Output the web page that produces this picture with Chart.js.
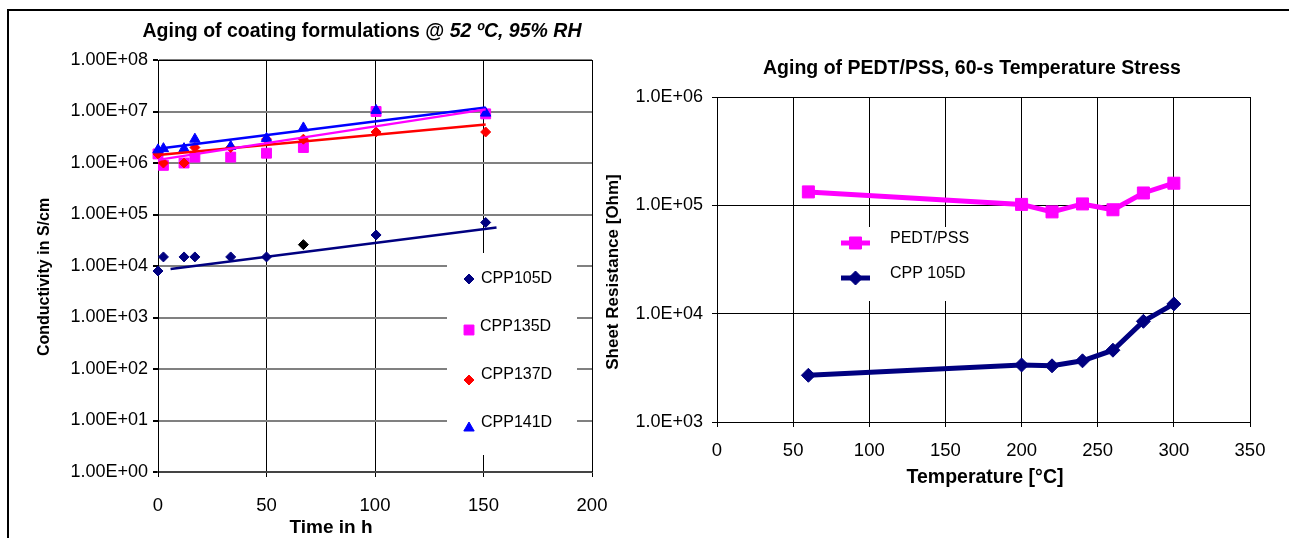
<!DOCTYPE html>
<html><head><meta charset="utf-8">
<script src="https://cdn.jsdelivr.net/npm/chart.js@4/dist/chart.umd.min.js"></script>
<style>
html,body{margin:0;padding:0;background:#fff;width:1289px;height:538px;overflow:hidden;position:relative}
#frame{position:absolute;left:7px;top:9px;width:1290px;height:540px;border-top:2px solid #000;border-left:2px solid #000;box-sizing:border-box}
#c1{position:absolute;left:10px;top:12px}
#c2{position:absolute;left:600px;top:12px}
</style></head><body>
<div id="frame"></div>
<canvas id="c1" width="620" height="526"></canvas>
<canvas id="c2" width="689" height="526"></canvas>
<script>
// ---------- Left chart data ----------
const timeH   = [0, 2.5, 12, 17, 33.5, 50, 67, 100.5, 151];
const cpp105D = [8e3, 1.5e4, 1.5e4, 1.5e4, 1.5e4, 1.5e4, 2.6e4, 4.0e4, 7.0e4];
const cpp135D = [1.5e6, 9e5, 1.0e6, 1.3e6, 1.3e6, 1.55e6, 2.0e6, 1.0e7, 9.0e6];
const cpp137D = [1.5e6, 1.0e6, 1.0e6, 2.0e6, 2.0e6, 2.9e6, 2.9e6, 4.0e6, 4.0e6];
const cpp141D = [1.8e6, 1.9e6, 1.9e6, 2.9e6, 2.1e6, 3.0e6, 4.8e6, 1.05e7, 9.3e6];
const seriesNamesLeft = ['CPP105D', 'CPP135D', 'CPP137D', 'CPP141D'];
// trendlines (end points)
const trendTime105 = [5.8, 156];
const trend105     = [8.7e3, 5.6e4];
const trendTime    = [0, 151];
const trend135     = [1.15e6, 1.1e7];
const trend137     = [1.43e6, 5.6e6];
const trend141     = [1.9e6, 1.2e7];
const leftYTickValues = [1, 10, 100, 1e3, 1e4, 1e5, 1e6, 1e7, 1e8];
const leftYTickLabels = ['1.00E+00','1.00E+01','1.00E+02','1.00E+03','1.00E+04','1.00E+05','1.00E+06','1.00E+07','1.00E+08'];
const leftXTickValues = [0, 50, 100, 150, 200];

// ---------- Right chart data ----------
const tempC    = [60, 200, 220, 240, 260, 280, 300];
const pedtPss  = [1.33e5, 1.02e5, 8.7e4, 1.03e5, 9.1e4, 1.3e5, 1.6e5];
const cpp105DT = [2.7e3, 3.36e3, 3.3e3, 3.67e3, 4.6e3, 8.5e3, 1.23e4];
const seriesNamesRight = ['PEDT/PSS', 'CPP 105D'];
const rightYTickValues = [1e3, 1e4, 1e5, 1e6];
const rightYTickLabels = ['1.0E+03','1.0E+04','1.0E+05','1.0E+06'];
const rightXTickValues = [0, 50, 100, 150, 200, 250, 300, 350];

// ---------- helpers ----------
const FAM = '"Liberation Sans", Arial, Helvetica, sans-serif';
const pts = (xs, ys) => xs.map((x, i) => ({x, y: ys[i]}));

function textPlugin(items) {
  return { id: 'txt', afterDraw(chart) {
    const ctx = chart.ctx;
    items.forEach(it => {
      ctx.save();
      ctx.translate(it.x, it.y);
      if (it.rot) ctx.rotate(it.rot);
      ctx.fillStyle = '#000';
      ctx.textBaseline = 'middle';
      ctx.textAlign = 'left';
      let total = 0;
      const parts = it.parts.map(p => { ctx.font = p.font; const w = ctx.measureText(p.text).width; total += w; return {text: p.text, font: p.font, w}; });
      let x = -total / 2;
      parts.forEach(p => { ctx.font = p.font; ctx.fillText(p.text, x, 0); x += p.w; });
      ctx.restore();
    });
  }};
}

function legendPlugin(box, entries, withLine) {
  return { id: 'lgd', afterDatasetsDraw(chart) {
    const ctx = chart.ctx;
    ctx.save();
    ctx.fillStyle = '#fff';
    ctx.fillRect(box.x, box.y, box.w, box.h);
    entries.forEach(e => {
      ctx.strokeStyle = e.color; ctx.fillStyle = e.color;
      if (withLine) {
        ctx.lineWidth = 5;
        ctx.beginPath(); ctx.moveTo(e.lx0, e.my); ctx.lineTo(e.lx1, e.my); ctx.stroke();
      }
      ctx.lineWidth = 1;
      Chart.helpers.drawPoint(ctx, {pointStyle: e.style, radius: e.r, borderWidth: 1, rotation: 0}, e.mx, e.my);
      ctx.fillStyle = '#000';
      ctx.font = '16px ' + FAM;
      ctx.textAlign = 'left'; ctx.textBaseline = 'middle';
      ctx.fillText(e.label, e.tx, e.ty);
    });
    ctx.restore();
  }};
}

const frameBorder = { id: 'frameBorder', afterDraw(chart) {
  const a = chart.chartArea, ctx = chart.ctx;
  ctx.save(); ctx.strokeStyle = '#000'; ctx.lineWidth = 1;
  ctx.beginPath();
  ctx.moveTo(a.left, a.top + 0.5); ctx.lineTo(a.right + 0.5, a.top + 0.5); ctx.lineTo(a.right + 0.5, a.bottom);
  ctx.stroke(); ctx.restore();
}};

// ---------- Left chart ----------
const navyPointColors = cpp105D.map((v, i) => i === 6 ? '#000000' : '#000080');
const mk = (label, data, color, style, r, order) => ({
  label, data, backgroundColor: color, borderColor: color, pointBackgroundColor: color, pointBorderColor: color,
  pointStyle: style, pointRadius: r, pointBorderWidth: 1, showLine: false, clip: false, order
});
const tr = (data, color) => ({ data, borderColor: color, backgroundColor: color, borderWidth: 2.5, pointRadius: 0, showLine: true, clip: false, order: 0 });

const ds105 = mk(seriesNamesLeft[0], pts(timeH, cpp105D), '#000080', 'rectRot', 5, 4);
ds105.pointBackgroundColor = navyPointColors; ds105.pointBorderColor = navyPointColors;

new Chart(document.getElementById('c1'), {
  type: 'scatter',
  data: { datasets: [
    ds105,
    mk(seriesNamesLeft[1], pts(timeH, cpp135D), '#FF00FF', 'rect', 7, 3),
    mk(seriesNamesLeft[2], pts(timeH, cpp137D), '#FF0000', 'rectRot', 5, 2),
    mk(seriesNamesLeft[3], pts(timeH, cpp141D), '#0000FF', 'triangle', 6, 1),
    tr(pts(trendTime105, trend105), '#000080'),
    tr(pts(trendTime, trend135), '#FF00FF'),
    tr(pts(trendTime, trend137), '#FF0000'),
    tr(pts(trendTime, trend141), '#0000FF')
  ]},
  options: {
    responsive: false, animation: false, devicePixelRatio: 1,
    layout: { padding: { left: 0, right: 38, top: 48, bottom: 0 } },
    plugins: { legend: { display: false }, tooltip: { enabled: false } },
    scales: {
      x: { type: 'linear', min: 0, max: 200,
        afterBuildTicks: s => { s.ticks = leftXTickValues.map(v => ({value: v})); },
        afterFit: s => { s.height = 66; },
        ticks: { font: { family: FAM, size: 18.5 }, color: '#000', padding: 18, maxRotation: 0, autoSkip: false },
        grid: { color: '#000', lineWidth: 1, tickLength: 5, tickColor: '#000' },
        border: { color: '#444', width: 2 } },
      y: { type: 'logarithmic', min: 1, max: 1e8,
        afterBuildTicks: s => { s.ticks = leftYTickValues.map(v => ({value: v})); },
        afterFit: s => { s.width = 148; },
        ticks: { font: { family: FAM, size: 18 }, color: '#000', padding: 5, autoSkip: false,
          callback: v => leftYTickLabels[leftYTickValues.indexOf(v)] },
        grid: { color: '#808080', lineWidth: 2, tickLength: 5, tickColor: '#000' },
        border: { color: '#000', width: 1 } }
    }
  },
  plugins: [frameBorder,
    legendPlugin({x: 437, y: 241, w: 130, h: 202}, [
      {label: seriesNamesLeft[0], color: '#000080', style: 'rectRot', r: 5, mx: 459, my: 267, tx: 471, ty: 267},
      {label: seriesNamesLeft[1], color: '#FF00FF', style: 'rect', r: 7, mx: 459, my: 318, tx: 470, ty: 315},
      {label: seriesNamesLeft[2], color: '#FF0000', style: 'rectRot', r: 5, mx: 459, my: 368, tx: 471, ty: 363},
      {label: seriesNamesLeft[3], color: '#0000FF', style: 'triangle', r: 6, mx: 459, my: 416, tx: 471, ty: 411}
    ], false),
    textPlugin([
      {x: 352, y: 20, parts: [
        {text: 'Aging of coating formulations @ ', font: 'bold 19.5px ' + FAM},
        {text: '52 ºC, 95% RH', font: 'italic bold 19.5px ' + FAM}]},
      {x: 321, y: 516, parts: [{text: 'Time in h', font: 'bold 19px ' + FAM}]},
      {x: 35, y: 265, rot: -Math.PI / 2, parts: [{text: 'Conductivity in S/cm', font: 'bold 16px ' + FAM}]}
    ])
  ]
});

// ---------- Right chart ----------
new Chart(document.getElementById('c2'), {
  type: 'scatter',
  data: { datasets: [
    { label: seriesNamesRight[0], data: pts(tempC, pedtPss), borderColor: '#FF00FF', backgroundColor: '#FF00FF',
      borderWidth: 5, pointStyle: 'rect', pointRadius: 8.5, pointBorderWidth: 1, showLine: true, clip: false },
    { label: seriesNamesRight[1], data: pts(tempC, cpp105DT), borderColor: '#000080', backgroundColor: '#000080',
      borderWidth: 5, pointStyle: 'rectRot', pointRadius: 7, pointBorderWidth: 1, showLine: true, clip: false }
  ]},
  options: {
    responsive: false, animation: false, devicePixelRatio: 1,
    layout: { padding: { left: 0, right: 39, top: 85, bottom: 0 } },
    plugins: { legend: { display: false }, tooltip: { enabled: false } },
    scales: {
      x: { type: 'linear', min: 0, max: 350,
        afterBuildTicks: s => { s.ticks = rightXTickValues.map(v => ({value: v})); },
        afterFit: s => { s.height = 116; },
        ticks: { font: { family: FAM, size: 18.5 }, color: '#000', padding: 13, maxRotation: 0, autoSkip: false },
        grid: { color: '#000', lineWidth: 1, tickLength: 5 },
        border: { color: '#000', width: 1 } },
      y: { type: 'logarithmic', min: 1e3, max: 1e6,
        afterBuildTicks: s => { s.ticks = rightYTickValues.map(v => ({value: v})); },
        afterFit: s => { s.width = 117; },
        ticks: { font: { family: FAM, size: 18 }, color: '#000', padding: 9, autoSkip: false,
          callback: v => rightYTickLabels[rightYTickValues.indexOf(v)] },
        grid: { color: '#000', lineWidth: 1, tickLength: 5 },
        border: { color: '#000', width: 1 } }
    }
  },
  plugins: [frameBorder,
    legendPlugin({x: 233, y: 215, w: 152, h: 74}, [
      {label: seriesNamesRight[0], color: '#FF00FF', style: 'rect', r: 8.5, lx0: 241, lx1: 270, mx: 255.5, my: 231, tx: 290, ty: 227},
      {label: seriesNamesRight[1], color: '#000080', style: 'rectRot', r: 7, lx0: 241, lx1: 270, mx: 255.5, my: 266, tx: 290, ty: 262}
    ], true),
    textPlugin([
      {x: 372, y: 57, parts: [{text: 'Aging of PEDT/PSS, 60-s Temperature Stress', font: 'bold 19.5px ' + FAM}]},
      {x: 385, y: 466, parts: [{text: 'Temperature [°C]', font: 'bold 19.5px ' + FAM}]},
      {x: 13, y: 260, rot: -Math.PI / 2, parts: [{text: 'Sheet Resistance [Ohm]', font: 'bold 17px ' + FAM}]}
    ])
  ]
});
</script>
</body></html>
